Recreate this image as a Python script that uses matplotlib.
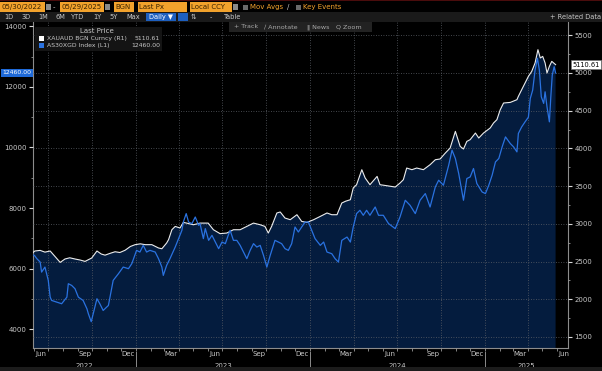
import matplotlib
matplotlib.use("Agg")
import matplotlib.pyplot as plt
import matplotlib.dates as mdates
import matplotlib.transforms as mtransforms
from matplotlib.patches import Rectangle
from matplotlib.ticker import FixedLocator, MultipleLocator
import numpy as np
import pandas as pd

# XAUAUD BGN Curncy  (R1, right axis)
gold_dates = [
    "2022-05-30", "2022-06-03", "2022-06-14", "2022-06-24", "2022-07-05", "2022-07-15",
    "2022-07-26", "2022-08-05", "2022-08-15", "2022-08-26", "2022-09-06", "2022-09-16",
    "2022-09-30", "2022-10-11", "2022-10-20", "2022-10-28", "2022-11-08", "2022-11-18",
    "2022-11-28", "2022-12-09", "2022-12-20", "2022-12-30", "2023-01-10", "2023-01-20",
    "2023-02-03", "2023-02-17", "2023-02-24", "2023-03-06", "2023-03-10", "2023-03-17",
    "2023-03-24", "2023-04-03", "2023-04-10", "2023-04-17", "2023-05-01", "2023-05-15",
    "2023-06-01", "2023-06-12", "2023-06-26", "2023-07-10", "2023-07-24", "2023-08-07",
    "2023-08-21", "2023-09-04", "2023-09-18", "2023-09-28", "2023-10-05", "2023-10-12",
    "2023-10-23", "2023-10-30", "2023-11-09", "2023-11-20", "2023-12-04", "2023-12-14",
    "2023-12-25", "2024-01-08", "2024-01-22", "2024-02-05", "2024-02-15", "2024-02-26",
    "2024-03-07", "2024-03-15", "2024-03-25", "2024-03-31", "2024-04-07", "2024-04-18",
    "2024-04-25", "2024-05-05", "2024-05-20", "2024-05-26", "2024-06-09", "2024-06-27",
    "2024-07-07", "2024-07-14", "2024-07-21", "2024-08-01", "2024-08-11", "2024-08-25",
    "2024-09-08", "2024-09-19", "2024-09-29", "2024-10-10", "2024-10-20", "2024-10-31",
    "2024-11-10", "2024-11-17", "2024-11-24", "2024-12-01", "2024-12-12", "2024-12-19",
    "2024-12-29", "2025-01-12", "2025-01-19", "2025-01-26", "2025-02-02", "2025-02-09",
    "2025-02-23", "2025-03-09", "2025-03-12", "2025-03-19", "2025-03-26", "2025-04-02",
    "2025-04-09", "2025-04-16", "2025-04-22", "2025-04-27", "2025-05-02", "2025-05-07",
    "2025-05-11", "2025-05-16", "2025-05-21", "2025-05-29",
]
gold_px = [
    2620, 2640, 2648, 2625, 2640, 2568,
    2489, 2534, 2550, 2534, 2520, 2502,
    2547, 2640, 2600, 2585, 2610, 2630,
    2620, 2650, 2700, 2724, 2735, 2724,
    2724, 2680, 2670, 2746, 2790, 2922,
    2966, 2945, 3019, 3010, 2988, 3010,
    3010, 2922, 2870, 2878, 2922, 2922,
    2966, 3010, 2988, 2966, 2878, 2966,
    3144, 3157, 3077, 3055, 3121, 3032,
    3019, 3055, 3099, 3144, 3121, 3121,
    3276, 3300, 3320, 3475, 3519, 3718,
    3608, 3519, 3629, 3519, 3506, 3488,
    3541, 3585, 3740, 3718, 3740, 3718,
    3784, 3850, 3860, 3939, 4005, 4226,
    4027, 3992, 4093, 4116, 4204, 4138,
    4204, 4271, 4337, 4381, 4513, 4602,
    4610, 4646, 4690, 4779, 4867, 4955,
    5021, 5133, 5309, 5199, 5220, 5133,
    5000, 5088, 5154, 5110.61,
]

# AS30XGD Index  (L1, left axis)
idx_dates = [
    "2022-05-30", "2022-06-02", "2022-06-07", "2022-06-14", "2022-06-17", "2022-06-24",
    "2022-07-01", "2022-07-05", "2022-07-08", "2022-07-19", "2022-07-29", "2022-08-09",
    "2022-08-12", "2022-08-19", "2022-08-26", "2022-09-02", "2022-09-12", "2022-09-20",
    "2022-09-23", "2022-09-29", "2022-10-11", "2022-10-17", "2022-10-24", "2022-11-04",
    "2022-11-14", "2022-11-25", "2022-12-05", "2022-12-16", "2022-12-23", "2023-01-02",
    "2023-01-09", "2023-01-16", "2023-01-23", "2023-01-30", "2023-02-10", "2023-02-17",
    "2023-02-24", "2023-02-27", "2023-03-06", "2023-03-13", "2023-03-24", "2023-03-31",
    "2023-04-07", "2023-04-10", "2023-04-16", "2023-04-21", "2023-04-28", "2023-05-05",
    "2023-05-12", "2023-05-15", "2023-05-22", "2023-05-26", "2023-06-02", "2023-06-09",
    "2023-06-16", "2023-06-23", "2023-06-30", "2023-07-07", "2023-07-13", "2023-07-17",
    "2023-07-24", "2023-07-31", "2023-08-07", "2023-08-14", "2023-08-21", "2023-08-28",
    "2023-09-04", "2023-09-11", "2023-09-18", "2023-09-25", "2023-10-02", "2023-10-09",
    "2023-10-19", "2023-10-26", "2023-11-02", "2023-11-09", "2023-11-16", "2023-11-23",
    "2023-11-30", "2023-12-07", "2023-12-14", "2023-12-21", "2023-12-28", "2024-01-04",
    "2024-01-11", "2024-01-22", "2024-01-29", "2024-02-05", "2024-02-15", "2024-02-22",
    "2024-02-29", "2024-03-07", "2024-03-18", "2024-03-25", "2024-03-31", "2024-04-07",
    "2024-04-14", "2024-04-21", "2024-04-28", "2024-05-05", "2024-05-16", "2024-05-23",
    "2024-06-02", "2024-06-13", "2024-06-27", "2024-07-07", "2024-07-18", "2024-07-28",
    "2024-08-08", "2024-08-18", "2024-08-29", "2024-09-08", "2024-09-19", "2024-09-26",
    "2024-10-06", "2024-10-17", "2024-10-24", "2024-10-31", "2024-11-07", "2024-11-17",
    "2024-11-24", "2024-12-01", "2024-12-08", "2024-12-15", "2024-12-26", "2025-01-02",
    "2025-01-09", "2025-01-16", "2025-01-23", "2025-01-30", "2025-02-06", "2025-02-13",
    "2025-02-23", "2025-03-02", "2025-03-09", "2025-03-12", "2025-03-19", "2025-03-26",
    "2025-04-02", "2025-04-06", "2025-04-11", "2025-04-16", "2025-04-21", "2025-04-25",
    "2025-04-29", "2025-05-04", "2025-05-07", "2025-05-11", "2025-05-16", "2025-05-19",
    "2025-05-22", "2025-05-26", "2025-05-29",
]
idx_px = [
    6450, 6439, 6330, 6218, 5887, 6053,
    5613, 5061, 4952, 4896, 4843, 5061,
    5504, 5448, 5339, 5061, 4952, 4677,
    4512, 4250, 5008, 4843, 4621, 4786,
    5613, 5834, 6053, 6000, 6165, 6605,
    6549, 6770, 6549, 6605, 6549, 6330,
    6053, 5778, 6109, 6330, 6714, 6992,
    7266, 7540, 7818, 7540, 7487, 7706,
    7431, 7487, 6992, 7322, 6935, 7100,
    6879, 6661, 6879, 6826, 7100, 7266,
    6935, 6935, 6770, 6549, 6330, 6605,
    6826, 6714, 6770, 6439, 6053, 6439,
    6935, 6879, 6826, 6661, 6605, 6826,
    7375, 7210, 7375, 7540, 7540, 7266,
    6992, 6770, 6879, 6549, 6495, 6330,
    6218, 6935, 7044, 6879, 7375, 7818,
    7927, 7762, 7927, 7762, 8036, 7762,
    7762, 7487, 7322, 7706, 8258, 8093,
    7818, 8258, 8479, 8036, 8698, 8919,
    8754, 9415, 9911, 9636, 9140, 8258,
    8975, 9028, 9306, 8810, 8532, 8479,
    8754, 9084, 9524, 9636, 10020, 10350,
    10132, 10020, 9855, 10463, 10681, 10846,
    11000, 11620, 11894, 12556, 12942, 12556,
    11673, 11455, 11838, 11342, 10846, 11673,
    12390, 12665, 12460,
]

left_ticks = [4000, 6000, 8000, 10000, 12000, 14000]
right_ticks = [1500, 2000, 2500, 3000, 3500, 4000, 4500, 5000, 5500]
label_months = ["Mar", "Jun", "Sep", "Dec"]
years = [2022, 2023, 2024, 2025]

W, H = 602, 371
NAVY = "#041c3e"
BLUE = "#2a72e0"
TXT = "#c8c8c8"
ORANGE = "#f2a22c"
FS = 5.0

gold_d = pd.to_datetime(gold_dates)
idx_d = pd.to_datetime(idx_dates)
x0, x1 = pd.Timestamp("2022-05-30"), pd.Timestamp("2025-06-24")

fig = plt.figure(figsize=(W / 100, H / 100), dpi=100, facecolor="black")


def fx(px):
    return px / W


def fy(py):
    return 1 - py / H


# main plot area: gold on the right scale, index on a twin with the left scale
ax = fig.add_axes([fx(33), fy(348), (568 - 33) / W, (348 - 22) / H])
ax.set_facecolor("black")
ax2 = ax.twinx()
ax.yaxis.tick_right()
ax2.yaxis.tick_left()

ax.fill_between(gold_d, gold_px, 0, color=NAVY, lw=0, zorder=1)
ax.plot(gold_d, gold_px, color="#ececec", lw=0.8, zorder=3)
ax2.plot(idx_d, idx_px, color=BLUE, lw=0.9, zorder=3)

ax.set_xlim(x0, x1)
ax.set_ylim(1354, 5676)
ax2.set_ylim(3382, 14142)

ax.set_yticks(right_ticks)
ax.yaxis.set_minor_locator(MultipleLocator(250))
ax2.set_yticks(left_ticks)
ax2.yaxis.set_minor_locator(MultipleLocator(1000))

grid_kw = dict(color="#5a5f66", linestyle=(0, (1, 2)), linewidth=0.6)
ax.set_axisbelow(False)
ax.grid(axis="y", **grid_kw)
ax.grid(axis="x", visible=False)
for q in pd.date_range("2022-07-01", x1, freq="QS"):
    ax.axvline(q, zorder=2.5, **grid_kw)

# month ticks and mid-month labels
ax.xaxis.set_minor_locator(mdates.MonthLocator())
mids = [d + pd.Timedelta(days=14) for d in pd.date_range("2022-06-01", x1, freq="MS")
        if d.strftime("%b") in label_months]
ax.xaxis.set_major_locator(FixedLocator(mdates.date2num(mids)))
ax.xaxis.set_major_formatter(mdates.DateFormatter("%b"))

for a in (ax, ax2):
    a.tick_params(axis="y", which="major", direction="out", length=3, width=0.8,
                  color="#d8d8d8", labelcolor=TXT, labelsize=FS, pad=1.5)
    a.tick_params(axis="y", which="minor", direction="out", length=1.5, width=0.6,
                  color="#9a9a9a")
ax.tick_params(axis="x", which="major", length=0, labelcolor=TXT, labelsize=FS, pad=2.5)
ax.tick_params(axis="x", which="minor", direction="out", length=1.8, width=0.6,
               color="#9a9a9a")

for a in (ax, ax2):
    for s in a.spines.values():
        s.set_visible(False)
for s in ("left", "right", "bottom"):
    ax.spines[s].set_visible(True)
    ax.spines[s].set_color("#8c8c8c")
    ax.spines[s].set_linewidth(0.8)

# year labels and separators
xtr = mtransforms.blended_transform_factory(ax.transData, ax.transAxes)
for y in years:
    a_ = max(pd.Timestamp(f"{y}-01-01"), x0)
    b_ = min(pd.Timestamp(f"{y}-12-31"), x1)
    mid = a_ + (b_ - a_) / 2
    ax.text(mid, -0.055, str(y), transform=xtr, ha="center", va="center",
            color=TXT, fontsize=FS, clip_on=False)
    if y > years[0]:
        ax.plot([pd.Timestamp(f"{y}-01-01")] * 2, [-0.012, -0.065], transform=xtr,
                color="#8c8c8c", lw=0.7, clip_on=False)

# last-price tags
ax2.text(-0.003, idx_px[-1], f"{idx_px[-1]:.2f}",
         transform=mtransforms.blended_transform_factory(ax2.transAxes, ax2.transData),
         ha="right", va="center", color="white", fontsize=4.4,
         bbox=dict(boxstyle="square,pad=0.2", fc="#1f6ad8", ec="none"))
ax.text(1.008, gold_px[-1], f"{gold_px[-1]:.2f}",
        transform=mtransforms.blended_transform_factory(ax.transAxes, ax.transData),
        ha="left", va="center", color="black", fontsize=4.8,
        bbox=dict(boxstyle="square,pad=0.2", fc="white", ec="#777777", lw=0.5))

# legend box
fig.patches.append(Rectangle((fx(35), fy(51)), fx(127), 24 / H, transform=fig.transFigure,
                             fc="#161616", ec="none", alpha=0.92, zorder=5))
fig.text(fx(97), fy(31), "Last Price", ha="center", va="center", color=TXT, fontsize=FS, zorder=6)
legend_rows = [("XAUAUD BGN Curncy (R1)", f"{gold_px[-1]:.2f}", "white", 38.5),
               ("AS30XGD Index (L1)", f"{idx_px[-1]:.2f}", BLUE, 45.5)]
for name, val, col, yy in legend_rows:
    fig.patches.append(Rectangle((fx(39), fy(yy + 2.5)), fx(5), 5 / H, transform=fig.transFigure,
                                 fc=col, ec="none", zorder=6))
    fig.text(fx(47), fy(yy), name, ha="left", va="center", color=TXT, fontsize=4.4, zorder=6)
    fig.text(fx(160), fy(yy), val, ha="right", va="center", color=TXT, fontsize=4.4, zorder=6)

# Bloomberg toolbar rows
fig.patches.append(Rectangle((0, fy(1.2)), 1, 1.2 / H, transform=fig.transFigure,
                             fc="#4a0c0c", ec="none"))
fig.patches.append(Rectangle((0, fy(22)), 1, 10 / H, transform=fig.transFigure,
                             fc="#1a1a1a", ec="none"))
fig.patches.append(Rectangle((0, 0), 1, 4 / H, transform=fig.transFigure,
                             fc="#1c1c1c", ec="none"))
fields = [("05/30/2022", 0, 45), ("05/29/2025", 60, 104), ("BGN", 114, 134),
          ("Last Px", 138, 187), ("Local CCY", 190, 232)]
for lab, a_, b_ in fields:
    fig.patches.append(Rectangle((fx(a_), fy(11.5)), fx(b_ - a_), 9.5 / H,
                                 transform=fig.transFigure, fc=ORANGE, ec="none"))
    fig.text(fx(a_ + 1), fy(7), lab, ha="left", va="center", color="#3a2200", fontsize=5.0)
for a_ in (46, 105, 233):
    fig.patches.append(Rectangle((fx(a_), fy(10)), fx(5), 6 / H, transform=fig.transFigure,
                                 fc="#8a8a8a", ec="none"))
fig.text(fx(54), fy(7), "-", ha="center", va="center", color=TXT, fontsize=FS)
for a_, lab in ((243, "Mov Avgs"), (296, "Key Events")):
    fig.patches.append(Rectangle((fx(a_), fy(10)), fx(4.5), 5 / H, transform=fig.transFigure,
                                 fc="#6a6a6a", ec="none"))
    fig.text(fx(a_ + 7), fy(7), lab, ha="left", va="center", color=ORANGE, fontsize=5.0)
fig.text(fx(287), fy(7), "/", ha="left", va="center", color=TXT, fontsize=FS)

for lab, xx in (("1D", 9), ("3D", 26), ("1M", 43), ("6M", 60), ("YTD", 78), ("1Y", 97),
                ("5Y", 114), ("Max", 133), ("-", 211), ("Table", 233)):
    fig.text(fx(xx), fy(17), lab, ha="center", va="center", color=TXT, fontsize=4.8)
fig.patches.append(Rectangle((fx(146), fy(21)), fx(30), 8 / H, transform=fig.transFigure,
                             fc="#1d5fbf", ec="none"))
fig.text(fx(161), fy(17), "Daily \u25bc", ha="center", va="center", color="white", fontsize=4.8)
fig.patches.append(Rectangle((fx(178), fy(21)), fx(10), 8 / H, transform=fig.transFigure,
                             fc="#1d5fbf", ec="none"))
fig.text(fx(193), fy(17), "\u21c5", ha="center", va="center", color=TXT, fontsize=4.8)
fig.text(fx(601), fy(17), "+ Related Data", ha="right", va="center", color=TXT, fontsize=4.8)

fig.patches.append(Rectangle((fx(229), fy(32)), fx(143), 10 / H, transform=fig.transFigure,
                             fc="#262626", ec="none", alpha=0.9, zorder=5))
for lab, xx in (("+ Track", 234), ("\u2215 Annotate", 264), ("\u2016 News", 307), ("Q Zoom", 336)):
    fig.text(fx(xx), fy(27), lab, ha="left", va="center", color="#a8a8a8", fontsize=4.6, zorder=6)

fig.savefig("out.png", dpi=100, facecolor="black")
